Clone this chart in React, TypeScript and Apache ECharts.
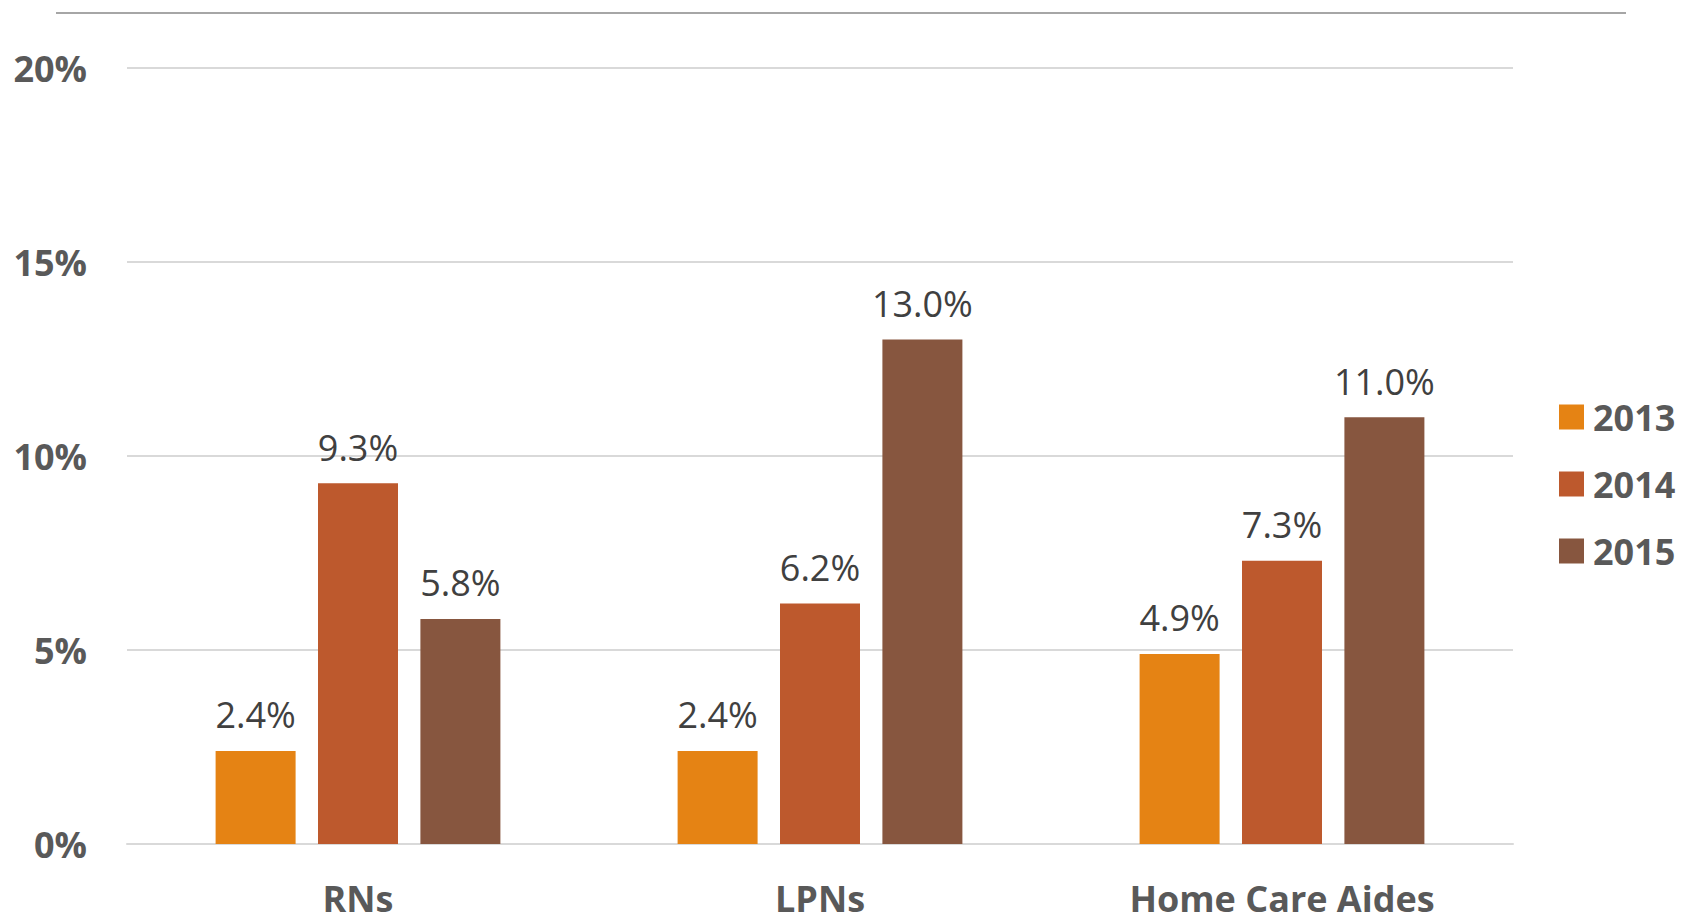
import React, { useEffect, useRef } from "react";
import * as echarts from "echarts";

const categories = ["RNs", "LPNs", "Home Care Aides"];
const years = ["2013", "2014", "2015"];
const values2013 = [2.4, 2.4, 4.9];
const values2014 = [9.3, 6.2, 7.3];
const values2015 = [5.8, 13.0, 11.0];
const colors = ["#E58314", "#BD592D", "#87563F"];
const yTicks = [0, 5, 10, 15, 20];

export default function App() {
  const ref = useRef<HTMLDivElement>(null);
  useEffect(() => {
    if (!ref.current) return;
    const chart = echarts.init(ref.current, undefined, { renderer: "svg" });
    const font = "'Open Sans', 'Noto Sans', sans-serif";
    const seriesData = [values2013, values2014, values2015];
    chart.setOption({
      animation: false,
      backgroundColor: "#ffffff",
      textStyle: { fontFamily: font },
      grid: { left: 127, right: 171, top: 68, bottom: 72, containLabel: false },
      legend: {
        orient: "vertical",
        left: 1554,
        top: 394,
        itemWidth: 25,
        itemHeight: 25,
        itemGap: 31,
        icon: "rect",
        data: years,
        textStyle: { fontFamily: font, fontSize: 36, fontWeight: "bold", color: "#595959", padding: [0, 0, 0, 4] },
      },
      xAxis: {
        type: "category",
        data: categories,
        axisLine: { show: true, lineStyle: { color: "#d9d9d9", width: 2 } },
        axisTick: { show: false },
        axisLabel: { fontFamily: font, fontSize: 36, fontWeight: "bold", color: "#595959", margin: 36 },
      },
      yAxis: {
        type: "value",
        min: yTicks[0],
        max: yTicks[yTicks.length - 1],
        interval: 5,
        axisLine: { show: false },
        axisTick: { show: false },
        splitLine: { lineStyle: { color: "#d9d9d9", width: 2 } },
        axisLabel: {
          fontFamily: font,
          fontSize: 36,
          fontWeight: "bold",
          color: "#595959",
          margin: 40,
          formatter: (v: number) => `${v}%`,
        },
      },
      series: years.map((y, i) => ({
        name: y,
        type: "bar",
        data: seriesData[i],
        barWidth: 80,
        barGap: "28%",
        itemStyle: { color: colors[i] },
        label: {
          show: true,
          position: "top",
          distance: 18,
          fontFamily: font,
          fontSize: 36,
          color: "#404040",
          formatter: (p: any) => `${Number(p.value).toFixed(1)}%`,
        },
      })),
      graphic: [
        {
          type: "line",
          shape: { x1: 56, y1: 13, x2: 1626, y2: 13 },
          style: { stroke: "#a6a6a6", lineWidth: 2 },
        },
      ],
    });
    return () => chart.dispose();
  }, []);
  return (
    <div
      ref={ref}
      style={{ position: "fixed", left: 0, top: 0, width: 1684, height: 916, background: "#fff" }}
    />
  );
}
